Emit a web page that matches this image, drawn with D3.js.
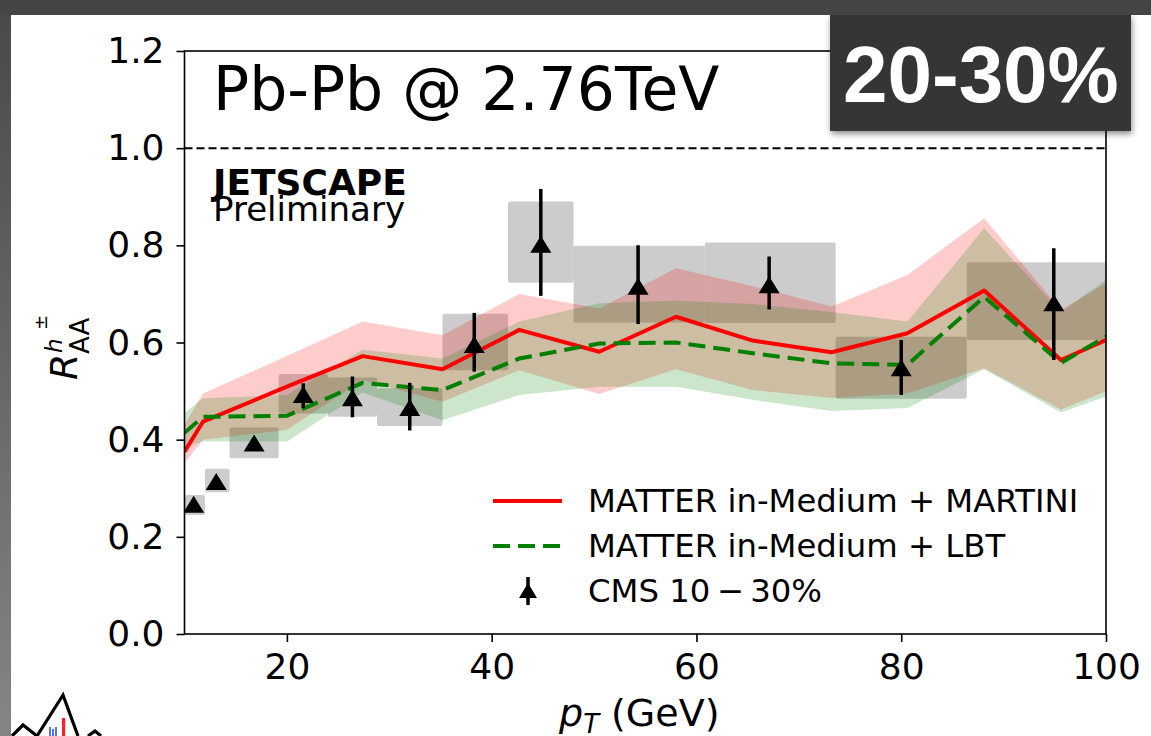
<!DOCTYPE html>
<html>
<head>
<meta charset="utf-8">
<script src="https://cdn.jsdelivr.net/npm/d3@7/dist/d3.min.js"></script>
<style>
  html, body { margin: 0; padding: 0; background: #454545; }
  svg { display: block; }
  text { font-family: "DejaVu Sans", sans-serif; }
</style>
</head>
<body>
<svg id="chart" width="1151" height="736"></svg>
<script>
// ---- model curves: R_AA vs pT ----
const modelPt = [10, 11.8, 20, 27.4, 35.2, 42.7, 50.5, 58, 65.5, 73.2, 80.6, 88.1, 95.6, 100];

const martiniMean  = [0.375, 0.437, 0.509, 0.572, 0.545, 0.626, 0.581, 0.653, 0.604, 0.580, 0.619, 0.707, 0.564, 0.605];
const martiniUpper = [0.430, 0.495, 0.572, 0.643, 0.615, 0.700, 0.670, 0.753, 0.716, 0.674, 0.739, 0.856, 0.667, 0.722];
const martiniLower = [0.352, 0.400, 0.420, 0.523, 0.478, 0.543, 0.494, 0.545, 0.502, 0.486, 0.495, 0.547, 0.462, 0.499];

const lbtMean  = [0.414, 0.447, 0.449, 0.517, 0.502, 0.567, 0.598, 0.600, 0.578, 0.557, 0.554, 0.694, 0.558, 0.612];
const lbtUpper = [0.455, 0.485, 0.492, 0.585, 0.567, 0.643, 0.681, 0.686, 0.679, 0.663, 0.643, 0.835, 0.663, 0.729];
const lbtLower = [0.385, 0.396, 0.396, 0.497, 0.440, 0.492, 0.509, 0.509, 0.482, 0.459, 0.465, 0.545, 0.456, 0.489];

// ---- CMS 10-30% charged hadron R_AA ----
const cmsPt     = [10.9, 13.1, 16.8, 21.6, 26.4, 32.0, 38.3, 44.8, 54.3, 67.1, 80.0, 94.9];
const cmsRaa    = [0.266, 0.313, 0.392, 0.492, 0.485, 0.465, 0.595, 0.801, 0.715, 0.718, 0.547, 0.681];
const cmsStatLo = [0.258, 0.305, 0.384, 0.465, 0.446, 0.419, 0.540, 0.696, 0.638, 0.668, 0.492, 0.564];
const cmsStatHi = [0.274, 0.321, 0.400, 0.516, 0.530, 0.517, 0.661, 0.916, 0.800, 0.777, 0.605, 0.794];
const cmsBinLo  = [10.0, 12.0, 14.4, 19.2, 24.0, 28.8, 35.2, 41.6, 48.0, 60.8, 73.6, 86.4];
const cmsBinHi  = [12.0, 14.4, 19.2, 24.0, 28.8, 35.2, 41.6, 48.0, 60.8, 73.6, 86.4, 103.6];
const cmsSysLo  = [0.245, 0.292, 0.362, 0.454, 0.447, 0.428, 0.543, 0.723, 0.641, 0.640, 0.484, 0.605];
const cmsSysHi  = [0.286, 0.340, 0.425, 0.535, 0.528, 0.506, 0.659, 0.890, 0.799, 0.806, 0.612, 0.765];

// ---- axes ----
const xTicks = [20, 40, 60, 80, 100];
const yTicks = [0.0, 0.2, 0.4, 0.6, 0.8, 1.0, 1.2];
const legendLabels = ["MATTER in-Medium + MARTINI", "MATTER in-Medium + LBT", "CMS 10\u2009\u2212\u200930%"];

const svg = d3.select("#chart");
const W = 1151, H = 736;
const plot = { left: 184.5, right: 1106, top: 51, bottom: 634 };

const x = d3.scaleLinear().domain([10, 100]).range([plot.left, plot.right]);
const y = d3.scaleLinear().domain([0, 1.2]).range([plot.bottom, plot.top]);

const defs = svg.append("defs");
const grad = defs.append("linearGradient").attr("id", "edge").attr("x1", 0).attr("y1", 0).attr("x2", 0).attr("y2", 1);
grad.append("stop").attr("offset", "0%").attr("stop-color", "#4a4a4a");
grad.append("stop").attr("offset", "100%").attr("stop-color", "#858585");
defs.append("clipPath").attr("id", "plotClip").append("rect")
  .attr("x", plot.left).attr("y", plot.top)
  .attr("width", plot.right - plot.left).attr("height", plot.bottom - plot.top);
const shadow = defs.append("filter").attr("id", "shadow").attr("x", "-10%").attr("y", "-10%").attr("width", "130%").attr("height", "140%");
shadow.append("feDropShadow").attr("dx", 1).attr("dy", 3).attr("stdDeviation", 3).attr("flood-color", "#000").attr("flood-opacity", 0.45);
const soft = defs.append("filter").attr("id", "soft");
soft.append("feGaussianBlur").attr("stdDeviation", 0.6);

// page frame
svg.append("rect").attr("x", 0).attr("y", 0).attr("width", W).attr("height", H).attr("fill", "#454545");
svg.append("rect").attr("x", 0).attr("y", 15).attr("width", 11).attr("height", H - 15).attr("fill", "url(#edge)");
svg.append("rect").attr("x", 11).attr("y", 15).attr("width", W - 11).attr("height", H - 15).attr("fill", "#ffffff");

// reference line at R_AA = 1
svg.append("line")
  .attr("x1", plot.left).attr("x2", plot.right)
  .attr("y1", y(1)).attr("y2", y(1))
  .attr("stroke", "#000").attr("stroke-width", 2).attr("stroke-dasharray", "8,4");

const g = svg.append("g").attr("clip-path", "url(#plotClip)");

// CMS systematic boxes
g.selectAll("rect.sys").data(cmsPt).join("rect").attr("class", "sys")
  .attr("x", (d, i) => x(cmsBinLo[i]))
  .attr("width", (d, i) => x(cmsBinHi[i]) - x(cmsBinLo[i]))
  .attr("y", (d, i) => y(cmsSysHi[i]))
  .attr("height", (d, i) => y(cmsSysLo[i]) - y(cmsSysHi[i]))
  .attr("rx", 2)
  .attr("fill", "#808080").attr("fill-opacity", 0.4)
  .attr("filter", "url(#soft)");

// model uncertainty bands
const band = (lo, hi) => d3.area()
  .x((d, i) => x(modelPt[i]))
  .y0((d, i) => y(lo[i]))
  .y1((d, i) => y(hi[i]));
g.append("path").datum(modelPt).attr("d", band(martiniLower, martiniUpper))
  .attr("fill", "#ff0000").attr("fill-opacity", 0.2);
g.append("path").datum(modelPt).attr("d", band(lbtLower, lbtUpper))
  .attr("fill", "#008000").attr("fill-opacity", 0.2);

// model central curves
const curve = vals => d3.line().x((d, i) => x(modelPt[i])).y((d, i) => y(vals[i]));
g.append("path").datum(modelPt).attr("d", curve(martiniMean))
  .attr("fill", "none").attr("stroke", "#ff0000").attr("stroke-width", 4).attr("stroke-linejoin", "round");
g.append("path").datum(modelPt).attr("d", curve(lbtMean))
  .attr("fill", "none").attr("stroke", "#008000").attr("stroke-width", 4)
  .attr("stroke-dasharray", "17,8");

// CMS stat error bars + markers
g.selectAll("line.stat").data(cmsPt).join("line").attr("class", "stat")
  .attr("x1", d => x(d)).attr("x2", d => x(d))
  .attr("y1", (d, i) => y(cmsStatLo[i])).attr("y2", (d, i) => y(cmsStatHi[i]))
  .attr("stroke", "#000").attr("stroke-width", 3.5);
const tri = "M0,-9L10.5,8L-10.5,8Z";
g.selectAll("path.pt").data(cmsPt).join("path").attr("class", "pt")
  .attr("transform", (d, i) => `translate(${x(d)},${y(cmsRaa[i])})`)
  .attr("d", tri).attr("fill", "#000");

// axes
const yAxis = d3.axisLeft(y).tickValues(yTicks).tickFormat(d3.format(".1f")).tickSize(8).tickSizeOuter(0).tickPadding(12);
const xAxis = d3.axisBottom(x).tickValues(xTicks).tickFormat(d3.format("d")).tickSize(8).tickSizeOuter(0).tickPadding(11);
const ya = svg.append("g").attr("transform", `translate(${plot.left},0)`).call(yAxis);
const xa = svg.append("g").attr("transform", `translate(0,${plot.bottom})`).call(xAxis);
[ya, xa].forEach(a => {
  a.select(".domain").remove();
  a.selectAll(".tick line").attr("stroke", "#000").attr("stroke-width", 1.6);
  a.selectAll(".tick text").attr("fill", "#000").style("font-size", "36px").style("font-family", "DejaVu Sans");
});

// plot frame
svg.append("rect")
  .attr("x", plot.left).attr("y", plot.top)
  .attr("width", plot.right - plot.left).attr("height", plot.bottom - plot.top)
  .attr("fill", "none").attr("stroke", "#000").attr("stroke-width", 1.6);

// annotations
svg.append("text").attr("x", 213).attr("y", 110).style("font-size", "60px").text("Pb-Pb @ 2.76TeV");
svg.append("text").attr("x", 213).attr("y", 195).style("font-size", "36px").style("font-weight", "bold").text("JETSCAPE");
svg.append("text").attr("x", 213).attr("y", 221).style("font-size", "34px").text("Preliminary");

// legend
const leg = svg.append("g");
const legY = [501, 546, 591];
leg.append("line").attr("x1", 493).attr("x2", 562).attr("y1", legY[0]).attr("y2", legY[0])
  .attr("stroke", "#ff0000").attr("stroke-width", 4);
leg.append("line").attr("x1", 493).attr("x2", 562).attr("y1", legY[1]).attr("y2", legY[1])
  .attr("stroke", "#008000").attr("stroke-width", 4).attr("stroke-dasharray", "17,8");
leg.append("line").attr("x1", 528).attr("x2", 528).attr("y1", legY[2] - 14).attr("y2", legY[2] + 14)
  .attr("stroke", "#000").attr("stroke-width", 3.5);
leg.append("path").attr("transform", `translate(528,${legY[2]})`).attr("d", "M0,-8L9,7L-9,7Z").attr("fill", "#000");
leg.selectAll("text").data(legendLabels).join("text")
  .attr("x", 588).attr("y", (d, i) => legY[i] + 11)
  .style("font-size", "32.3px").text(d => d);

// axis titles
const yl = svg.append("g").attr("transform", "translate(77,380) rotate(-90)");
yl.append("text").attr("x", 0).attr("y", 0).style("font-size", "38px").style("font-style", "italic").text("R");
yl.append("text").attr("x", 26).attr("y", 12).style("font-size", "26px").text("AA");
yl.append("text").attr("x", 27).attr("y", -15).style("font-size", "23px").style("font-style", "italic").text("h");
yl.append("text").attr("x", 50).attr("y", -30).style("font-size", "18px").text("\u00b1");

const xl = svg.append("text").attr("x", 559).attr("y", 726).style("font-size", "38px");
xl.append("tspan").style("font-style", "italic").text("p");
xl.append("tspan").style("font-style", "italic").style("font-size", "26px").attr("dy", 7).text("T");
xl.append("tspan").attr("dy", -7).attr("dx", 12).text("(GeV)");

// centrality badge
svg.append("rect").attr("x", 830).attr("y", 15).attr("width", 301).attr("height", 116)
  .attr("fill", "#363636").attr("filter", "url(#shadow)");
svg.append("text").attr("x", 843).attr("y", 102)
  .style("font-family", "'Liberation Sans', Arial, sans-serif")
  .style("font-weight", "bold").style("font-size", "80px").attr("fill", "#ffffff")
  .text("20-30%");

// logo fragment at the lower-left corner
const logo = svg.append("g");
logo.append("path").attr("d", "M12,736L23,725L37,736L63,695L78,736")
  .attr("fill", "none").attr("stroke", "#000").attr("stroke-width", 3.2).attr("stroke-linejoin", "miter");
logo.append("path").attr("d", "M88,736L95,731L101,736")
  .attr("fill", "none").attr("stroke", "#000").attr("stroke-width", 3.2);
logo.append("rect").attr("x", 62).attr("y", 718).attr("width", 3.2).attr("height", 18).attr("fill", "#ff2020");
logo.append("path").attr("d", "M50,736V727M53,736V729M56,736V727")
  .attr("stroke", "#3050ff").attr("stroke-width", 1.6);
</script>
</body>
</html>
